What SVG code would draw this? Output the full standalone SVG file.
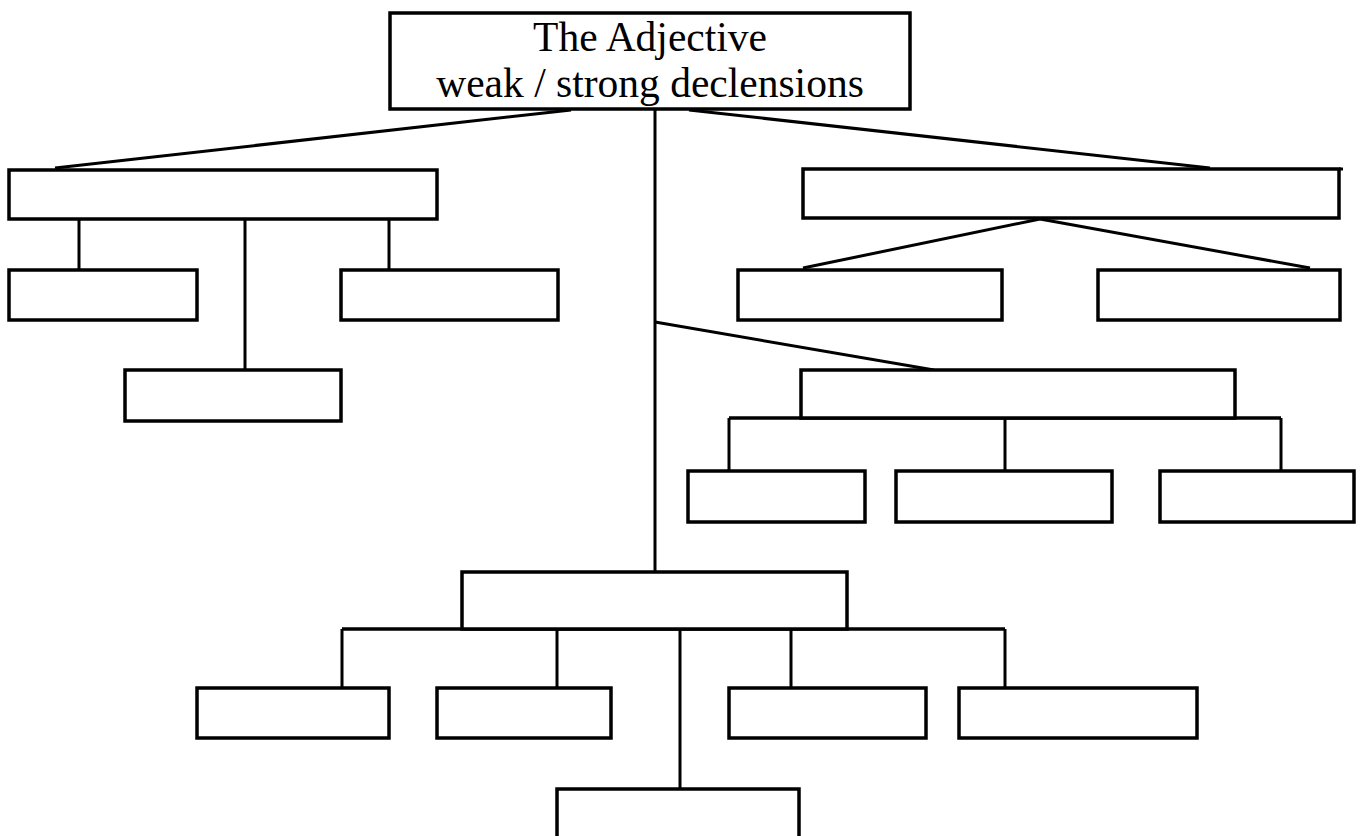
<svg xmlns="http://www.w3.org/2000/svg" width="1364" height="836" viewBox="0 0 1364 836">
<style>
.box{fill:#fff;stroke:#000;stroke-width:3.5}
.ln{fill:none;stroke:#000;stroke-width:3}
.bar{fill:none;stroke:#000;stroke-width:3.5}
.t{font-family:"Liberation Serif","Times New Roman",serif;font-size:41.5px;fill:#000;text-anchor:middle}
</style>
<rect width="1364" height="836" fill="#fff"/>
<g id="connectors">
<path class="ln" d="M571,110 L55,168"/>
<path class="ln" d="M689,110 L1210,168"/>
<path class="ln" d="M655,110 V571"/>
<path class="ln" d="M655,322 L934,370"/>
<path class="ln" d="M79,219 V270 M245,219 V370 M389,219 V270"/>
<path class="ln" d="M1040,219 L803,268 M1040,219 L1310,268"/>
<path class="bar" d="M729,418 H1281"/>
<path class="ln" d="M729,418 V470 M1005,418 V470 M1281,418 V470"/>
<path class="bar" d="M342,629 H1005"/>
<path class="ln" d="M342,629 V688 M557,629 V688 M791,629 V688 M1005,629 V688 M680,629 V789"/>
</g>
<g id="root"><rect class="box" x="390" y="13" width="520" height="96"/>
<text class="t" x="650" y="51">The Adjective</text>
<text class="t" x="650" y="97">weak / strong declensions</text></g>
<g id="L"><rect class="box" x="9" y="170" width="428" height="49"/></g>
<g id="L1"><rect class="box" x="9" y="270" width="188" height="50"/></g>
<g id="L2"><rect class="box" x="125" y="370" width="216" height="51"/></g>
<g id="L3"><rect class="box" x="341" y="270" width="217" height="50"/></g>
<g id="R"><rect class="box" x="803" y="169" width="536" height="49"/><path class="ln" d="M1339,169 H1343"/></g>
<g id="R1"><rect class="box" x="738" y="270" width="264" height="50"/></g>
<g id="R2"><rect class="box" x="1098" y="270" width="242" height="50"/></g>
<g id="M"><rect class="box" x="801" y="370" width="434" height="48"/></g>
<g id="M1"><rect class="box" x="688" y="471" width="177" height="51"/></g>
<g id="M2"><rect class="box" x="896" y="471" width="216" height="51"/></g>
<g id="M3"><rect class="box" x="1160" y="471" width="194" height="51"/></g>
<g id="B"><rect class="box" x="462" y="572" width="385" height="57"/></g>
<g id="B1"><rect class="box" x="197" y="688" width="192" height="50"/></g>
<g id="B2"><rect class="box" x="437" y="688" width="174" height="50"/></g>
<g id="B3"><rect class="box" x="729" y="688" width="197" height="50"/></g>
<g id="B4"><rect class="box" x="959" y="688" width="238" height="50"/></g>
<g id="B5"><rect class="box" x="557" y="789" width="242" height="60"/></g>
</svg>
